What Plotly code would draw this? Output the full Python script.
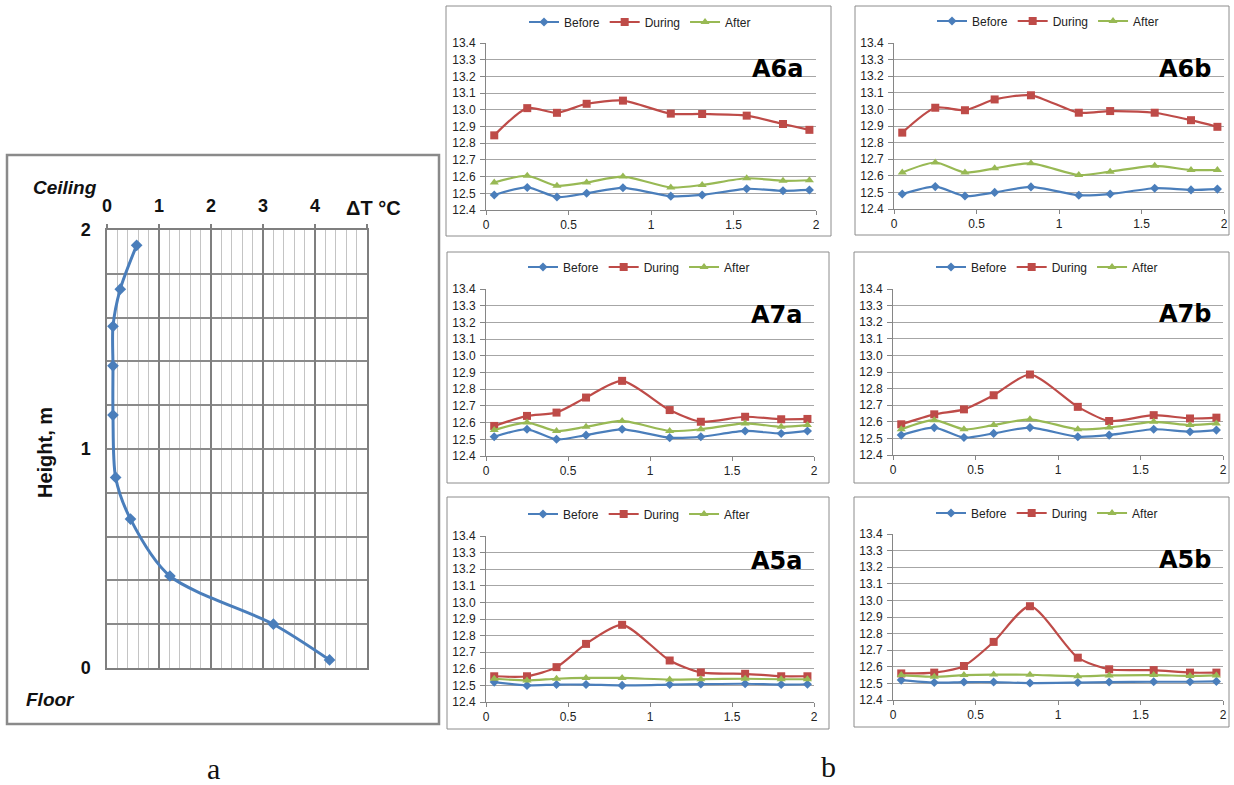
import plotly.graph_objects as go

W, H = 1234, 785

# ---------------- Panel a: vertical temperature-difference profile ----------
DT_A = [0.57, 0.255, 0.115, 0.115, 0.115, 0.166, 0.452, 1.21, 3.20, 4.28]
HEIGHT_A = [1.93, 1.73, 1.56, 1.38, 1.155, 0.87, 0.68, 0.42, 0.20, 0.037]
A_XTICKS = [0, 1, 2, 3, 4, 5]
A_XTICKTEXT = ["0", "1", "2", "3", "4", ""]
A_YTICKS = [0, 1, 2]

# ---------------- Panel b: six small charts ---------------------------------
X_POS = [0.05, 0.25, 0.43, 0.61, 0.83, 1.12, 1.31, 1.58, 1.80, 1.96]
X_TICKS = [0, 0.5, 1, 1.5, 2]
SERIES = ["Before", "During", "After"]

A6A_BEFORE = [12.49, 12.535, 12.478, 12.50, 12.533, 12.483, 12.49, 12.527, 12.515, 12.52]
A6A_DURING = [12.847, 13.01, 12.982, 13.036, 13.055, 12.977, 12.975, 12.965, 12.915, 12.88]
A6A_AFTER = [12.565, 12.605, 12.545, 12.565, 12.60, 12.535, 12.55, 12.59, 12.575, 12.578]

A6B_BEFORE = [12.49, 12.535, 12.478, 12.50, 12.533, 12.483, 12.49, 12.525, 12.515, 12.52]
A6B_DURING = [12.86, 13.01, 12.995, 13.06, 13.085, 12.98, 12.99, 12.98, 12.935, 12.895]
A6B_AFTER = [12.62, 12.68, 12.62, 12.645, 12.675, 12.605, 12.625, 12.66, 12.635, 12.635]

A7A_BEFORE = [12.515, 12.56, 12.50, 12.525, 12.56, 12.51, 12.515, 12.55, 12.535, 12.55]
A7A_DURING = [12.58, 12.64, 12.66, 12.75, 12.85, 12.675, 12.605, 12.635, 12.62, 12.622]
A7A_AFTER = [12.555, 12.60, 12.55, 12.575, 12.61, 12.55, 12.56, 12.595, 12.575, 12.585]

A7B_BEFORE = [12.52, 12.565, 12.505, 12.53, 12.565, 12.51, 12.52, 12.555, 12.54, 12.55]
A7B_DURING = [12.585, 12.645, 12.675, 12.76, 12.885, 12.69, 12.605, 12.64, 12.62, 12.625]
A7B_AFTER = [12.555, 12.61, 12.555, 12.58, 12.615, 12.555, 12.565, 12.60, 12.58, 12.59]

A5A_BEFORE = [12.52, 12.50, 12.505, 12.505, 12.50, 12.505, 12.508, 12.51, 12.505, 12.507]
A5A_DURING = [12.555, 12.555, 12.61, 12.75, 12.865, 12.65, 12.578, 12.57, 12.555, 12.555]
A5A_AFTER = [12.54, 12.53, 12.54, 12.545, 12.545, 12.535, 12.537, 12.54, 12.537, 12.537]

A5B_BEFORE = [12.52, 12.505, 12.508, 12.508, 12.502, 12.505, 12.508, 12.51, 12.51, 12.512]
A5B_DURING = [12.56, 12.565, 12.605, 12.75, 12.965, 12.655, 12.585, 12.58, 12.565, 12.565]
A5B_AFTER = [12.55, 12.54, 12.55, 12.553, 12.552, 12.543, 12.548, 12.55, 12.545, 12.548]

PANEL_NAMES = ["A6a", "A6b", "A7a", "A7b", "A5a", "A5b"]
PANEL_DATA = [
    (A6A_BEFORE, A6A_DURING, A6A_AFTER),
    (A6B_BEFORE, A6B_DURING, A6B_AFTER),
    (A7A_BEFORE, A7A_DURING, A7A_AFTER),
    (A7B_BEFORE, A7B_DURING, A7B_AFTER),
    (A5A_BEFORE, A5A_DURING, A5A_AFTER),
    (A5B_BEFORE, A5B_DURING, A5B_AFTER),
]

# ---------------- styling / layout (pixels) --------------------------------
COLORS = ["#4a7ebb", "#be4b48", "#98b954"]
SYMBOLS = ["diamond", "square", "triangle-up"]
MSIZE = [7, 8, 8]

# plot-area rectangles (x0, x1, y0_top, y1_bottom) in pixels
PLOT_RECTS = [
    (486, 816, 43, 210),
    (894, 1224, 43, 209),
    (486, 814, 289, 456),
    (893, 1223, 289, 455),
    (486, 814, 536, 702),
    (893, 1223, 534, 700),
]
BOX_RECTS = [
    (446, 831, 6, 236),
    (855, 1229, 6, 235),
    (447, 829, 252, 483),
    (854, 1229, 252, 483),
    (447, 829, 497, 729),
    (854, 1229, 497, 727),
]
LABEL_POS = [(805, 69), (1213, 69), (804, 315), (1213, 314), (804, 561), (1213, 560)]
LEGEND_POS = [(640, 22), (1048, 21), (639, 267), (1047, 267), (639, 514), (1047, 513)]


def px(x):
    return x / W


def py(y):
    return 1 - y / H


fig = go.Figure()

# ---- panel a
fig.add_trace(go.Scatter(
    x=DT_A, y=HEIGHT_A, mode="lines+markers",
    line=dict(color="#4a7ebb", width=3, shape="spline", smoothing=0.8),
    marker=dict(symbol="diamond", size=9, color="#4a7ebb"),
    xaxis="x", yaxis="y", showlegend=False, hoverinfo="x+y",
))

layout = dict(
    width=W, height=H, autosize=False,
    margin=dict(l=0, r=0, t=0, b=0, pad=0, autoexpand=False),
    paper_bgcolor="white", plot_bgcolor="white",
    font=dict(family="Liberation Sans, Arial, sans-serif", color="#222"),
    xaxis=dict(
        domain=[px(107), px(367)], range=[0, 5], side="top", anchor="y",
        tickvals=A_XTICKS, ticktext=A_XTICKTEXT, automargin=False,
        ticks="outside", ticklen=4, tickcolor="#7f7f7f", tickwidth=1.5,
        showgrid=True, gridcolor="#7f7f7f", gridwidth=1.5,
        minor=dict(dtick=0.2, tick0=0, showgrid=True, gridcolor="#c4c4c4", gridwidth=1.2),
        showline=True, linecolor="#7f7f7f", linewidth=1.5, mirror=True,
        zeroline=False, ticklabelstandoff=5,
        tickfont=dict(size=18, color="#111", weight="bold"),
    ),
    yaxis=dict(
        domain=[py(668), py(230)], range=[0, 2], anchor="x",
        tickvals=A_YTICKS, ticks="", automargin=False,
        showgrid=True, gridcolor="#8a8a8a", gridwidth=1.5,
        minor=dict(dtick=0.2, tick0=0, showgrid=True, gridcolor="#8a8a8a", gridwidth=1.5),
        showline=True, linecolor="#7f7f7f", linewidth=1.5, mirror=True,
        zeroline=False, ticklabelstandoff=11,
        tickfont=dict(size=18, color="#111", weight="bold"),
    ),
)

shapes = [dict(type="rect", xref="paper", yref="paper",
               x0=px(7), x1=px(439), y0=py(724), y1=py(155),
               line=dict(color="#8a8a8a", width=2.5), fillcolor="rgba(0,0,0,0)", layer="below")]

annotations = [
    dict(text="<b><i>Ceiling</i></b>", x=px(65), y=py(188), xref="paper", yref="paper",
         showarrow=False, font=dict(size=19, color="#111"), xanchor="center", yanchor="middle"),
    dict(text="<b><i>Floor</i></b>", x=px(50), y=py(699), xref="paper", yref="paper",
         showarrow=False, font=dict(size=19, color="#111"), xanchor="center", yanchor="middle"),
    dict(text="<b>ΔT °C</b>", x=px(373), y=py(208), xref="paper", yref="paper",
         showarrow=False, font=dict(size=20, color="#111"), xanchor="center", yanchor="middle"),
    dict(text="<b>Height, m</b>", x=px(45), y=py(452), xref="paper", yref="paper", textangle=-90,
         showarrow=False, font=dict(size=20, color="#111"), xanchor="center", yanchor="middle"),
    dict(text="a", x=px(213), y=py(768), xref="paper", yref="paper",
         showarrow=False, font=dict(size=30, color="#111", family="Liberation Serif, Times New Roman, serif"),
         xanchor="center", yanchor="middle"),
    dict(text="b", x=px(829), y=py(766), xref="paper", yref="paper",
         showarrow=False, font=dict(size=30, color="#111", family="Liberation Serif, Times New Roman, serif"),
         xanchor="center", yanchor="middle"),
]

for i, (name, data) in enumerate(zip(PANEL_NAMES, PANEL_DATA)):
    k = i + 2
    xa, ya = f"x{k}", f"y{k}"
    leg = "legend" if i == 0 else f"legend{i + 1}"
    for s, vals in enumerate(data):
        fig.add_trace(go.Scatter(
            x=X_POS, y=vals, name=SERIES[s], mode="lines+markers",
            line=dict(color=COLORS[s], width=2.2, shape="spline", smoothing=0.7),
            marker=dict(symbol=SYMBOLS[s], size=MSIZE[s], color=COLORS[s]),
            xaxis=xa, yaxis=ya, legend=leg, showlegend=True,
        ))
    x0, x1, y0, y1 = PLOT_RECTS[i]
    layout[f"xaxis{k}"] = dict(
        domain=[px(x0), px(x1)], range=[0, 2], anchor=ya, automargin=False,
        tickvals=X_TICKS, ticks="outside", ticklen=4, tickcolor="#868686",
        showline=True, linecolor="#868686", linewidth=1,
        showgrid=False, zeroline=False, ticklabelstandoff=0,
        tickfont=dict(size=12, color="#222"),
    )
    layout[f"yaxis{k}"] = dict(
        domain=[py(y1), py(y0)], range=[12.4, 13.4], anchor=xa, automargin=False,
        tick0=12.4, dtick=0.1, tickformat=".1f",
        ticks="outside", ticklen=5, tickcolor="#868686",
        showline=True, linecolor="#868686", linewidth=1,
        showgrid=True, gridcolor="#a6a6a6", gridwidth=1, zeroline=False,
        ticklabelstandoff=2,
        tickfont=dict(size=12, color="#222"),
    )
    lx, ly = LEGEND_POS[i]
    layout[leg] = dict(
        x=px(lx), y=py(ly), xanchor="center", yanchor="middle",
        orientation="h", bgcolor="rgba(0,0,0,0)", itemwidth=30,
        font=dict(size=12, color="#222"), itemclick=False, itemdoubleclick=False,
    )
    bx0, bx1, by0, by1 = BOX_RECTS[i]
    shapes.append(dict(type="rect", xref="paper", yref="paper",
                       x0=px(bx0), x1=px(bx1), y0=py(by1), y1=py(by0),
                       line=dict(color="#8c8c8c", width=1), fillcolor="rgba(0,0,0,0)", layer="below"))
    lbx, lby = LABEL_POS[i]
    annotations.append(dict(
        text=f"<b>{name}</b>", x=px(lbx), y=py(lby), xref="paper", yref="paper",
        showarrow=False, xanchor="right", yanchor="middle",
        font=dict(size=24, color="black", family="DejaVu Sans, sans-serif"),
    ))

layout["shapes"] = shapes
layout["annotations"] = annotations
fig.update_layout(**layout)

fig.write_html(
    "out.html",
    config={"displayModeBar": False},
    post_script="document.body.style.margin='0';document.body.style.overflow='hidden';",
)
